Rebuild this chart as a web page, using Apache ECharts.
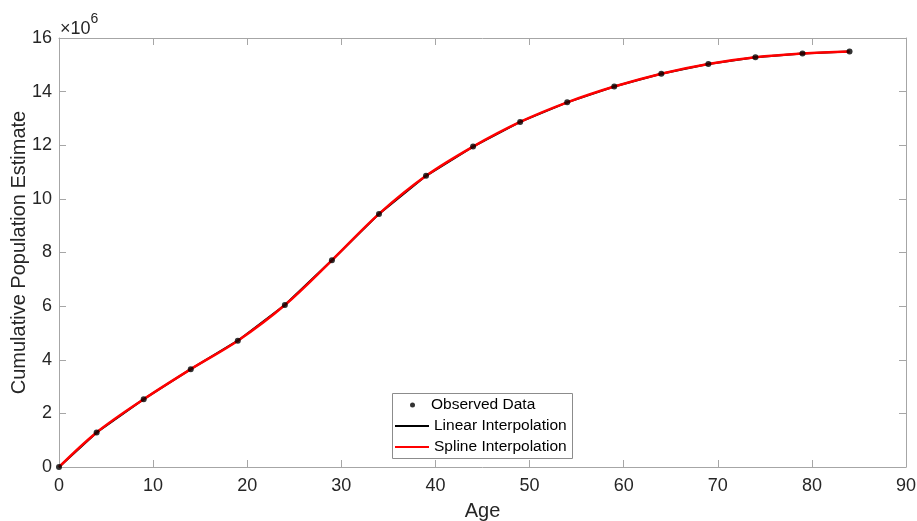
<!DOCTYPE html>
<html>
<head>
<meta charset="utf-8">
<script src="https://cdn.jsdelivr.net/npm/echarts@6/dist/echarts.min.js"></script>
<style>
html,body{margin:0;padding:0;background:#fff;}
#chart{width:917px;height:521px;}
</style>
</head>
<body>
<div id="chart"></div>
<script>
// Data (population in millions, shown with ×10^6 exponent)
const ages = [0, 4, 9, 14, 19, 24, 29, 34, 39, 44, 49, 54, 59, 64, 69, 74, 79, 84];
const populationMillions = [0, 1.29, 2.53, 3.65, 4.71, 6.04, 7.71, 9.44, 10.86, 11.95, 12.87, 13.60, 14.19, 14.67, 15.03, 15.28, 15.42, 15.50];
const xTicks = [0, 10, 20, 30, 40, 50, 60, 70, 80, 90];
const yTicks = [0, 2, 4, 6, 8, 10, 12, 14, 16];
const seriesNames = ['Observed Data', 'Linear Interpolation', 'Spline Interpolation'];

const points = ages.map((a, i) => [a, populationMillions[i]]);

const axisGray = '#a6a6a6';
const textDark = '#262626';
const fontFam = '"Liberation Sans", Arial, Helvetica, sans-serif';

const chart = echarts.init(document.getElementById('chart'), null, {renderer: 'canvas'});

function axisCommon(min, max, interval) {
  return {
    type: 'value', min: min, max: max, interval: interval,
    axisLine: {show: true, onZero: false, lineStyle: {color: axisGray, width: 1}},
    axisTick: {show: true, inside: true, length: 7, lineStyle: {color: axisGray}},
    splitLine: {show: false}
  };
}
const xMin = xTicks[0], xMax = xTicks[xTicks.length - 1];
const yMin = yTicks[0], yMax = yTicks[yTicks.length - 1];

chart.setOption({
  animation: false,
  backgroundColor: '#ffffff',
  grid: {left: 59, right: 11, top: 38, bottom: 54, containLabel: false, outerBoundsMode: 'none'},
  xAxis: [
    Object.assign(axisCommon(xMin, xMax, 10), {
      position: 'bottom',
      name: 'Age', nameLocation: 'middle', nameGap: 34, nameMoveOverlap: false,
      nameTextStyle: {color: textDark, fontSize: 20, fontFamily: fontFam},
      axisLabel: {show: true, color: textDark, fontSize: 18, fontFamily: fontFam, margin: 10}
    }),
    Object.assign(axisCommon(xMin, xMax, 10), {position: 'top', axisLabel: {show: false}})
  ],
  yAxis: [
    Object.assign(axisCommon(yMin, yMax, 2), {
      position: 'left',
      name: 'Cumulative Population Estimate', nameLocation: 'middle', nameGap: 30, nameMoveOverlap: false,
      nameTextStyle: {color: textDark, fontSize: 20, fontFamily: fontFam},
      axisLabel: {show: true, color: textDark, fontSize: 18, fontFamily: fontFam, margin: 7}
    }),
    Object.assign(axisCommon(yMin, yMax, 2), {position: 'right', axisLabel: {show: false}})
  ],
  legend: [
    {
      data: [{name: seriesNames[0], icon: 'circle'}],
      orient: 'vertical', left: 410, top: 397,
      itemWidth: 5, itemHeight: 5, itemGap: 6,
      textStyle: {color: '#000', fontSize: 15.5, fontFamily: fontFam, padding: [0, 0, 0, 11]},
      selectedMode: false, padding: 0
    },
    {
      data: [
        {name: seriesNames[1], icon: 'rect', itemStyle: {color: '#000000'}},
        {name: seriesNames[2], icon: 'rect', itemStyle: {color: '#ff0000'}}
      ],
      orient: 'vertical', left: 395, top: 418,
      itemWidth: 34, itemHeight: 2, itemGap: 5,
      textStyle: {color: '#000', fontSize: 15.5, fontFamily: fontFam},
      selectedMode: false, padding: 0
    }
  ],
  graphic: [
    {
      type: 'rect', left: 392, top: 393, z: 0,
      shape: {width: 180, height: 65},
      style: {fill: '#fff', stroke: '#8c8c8c', lineWidth: 1}
    },
    {
      type: 'text', left: 60, top: 12,
      style: {
        text: '{a|×10}{b|6}',
        rich: {
          a: {fontSize: 18, fontFamily: fontFam, fill: textDark, verticalAlign: 'bottom', lineHeight: 26},
          b: {fontSize: 14, fontFamily: fontFam, fill: textDark, verticalAlign: 'top', lineHeight: 16, padding: [0,0,10,0]}
        }
      }
    }
  ],
  series: [
    {
      name: seriesNames[1], type: 'line', data: points, smooth: false,
      symbol: 'none', showSymbol: false, z: 2,
      lineStyle: {color: '#000000', width: 2}, itemStyle: {color: '#000000'}
    },
    {
      name: seriesNames[2], type: 'line', data: points, smooth: 0.35,
      symbol: 'none', showSymbol: false, z: 3,
      lineStyle: {color: '#ff0000', width: 2.5}, itemStyle: {color: '#ff0000'}
    },
    {
      name: seriesNames[0], type: 'scatter', data: points, z: 4,
      symbol: 'circle', symbolSize: 6,
      itemStyle: {color: '#000000'}
    }
  ]
});
</script>
</body>
</html>
